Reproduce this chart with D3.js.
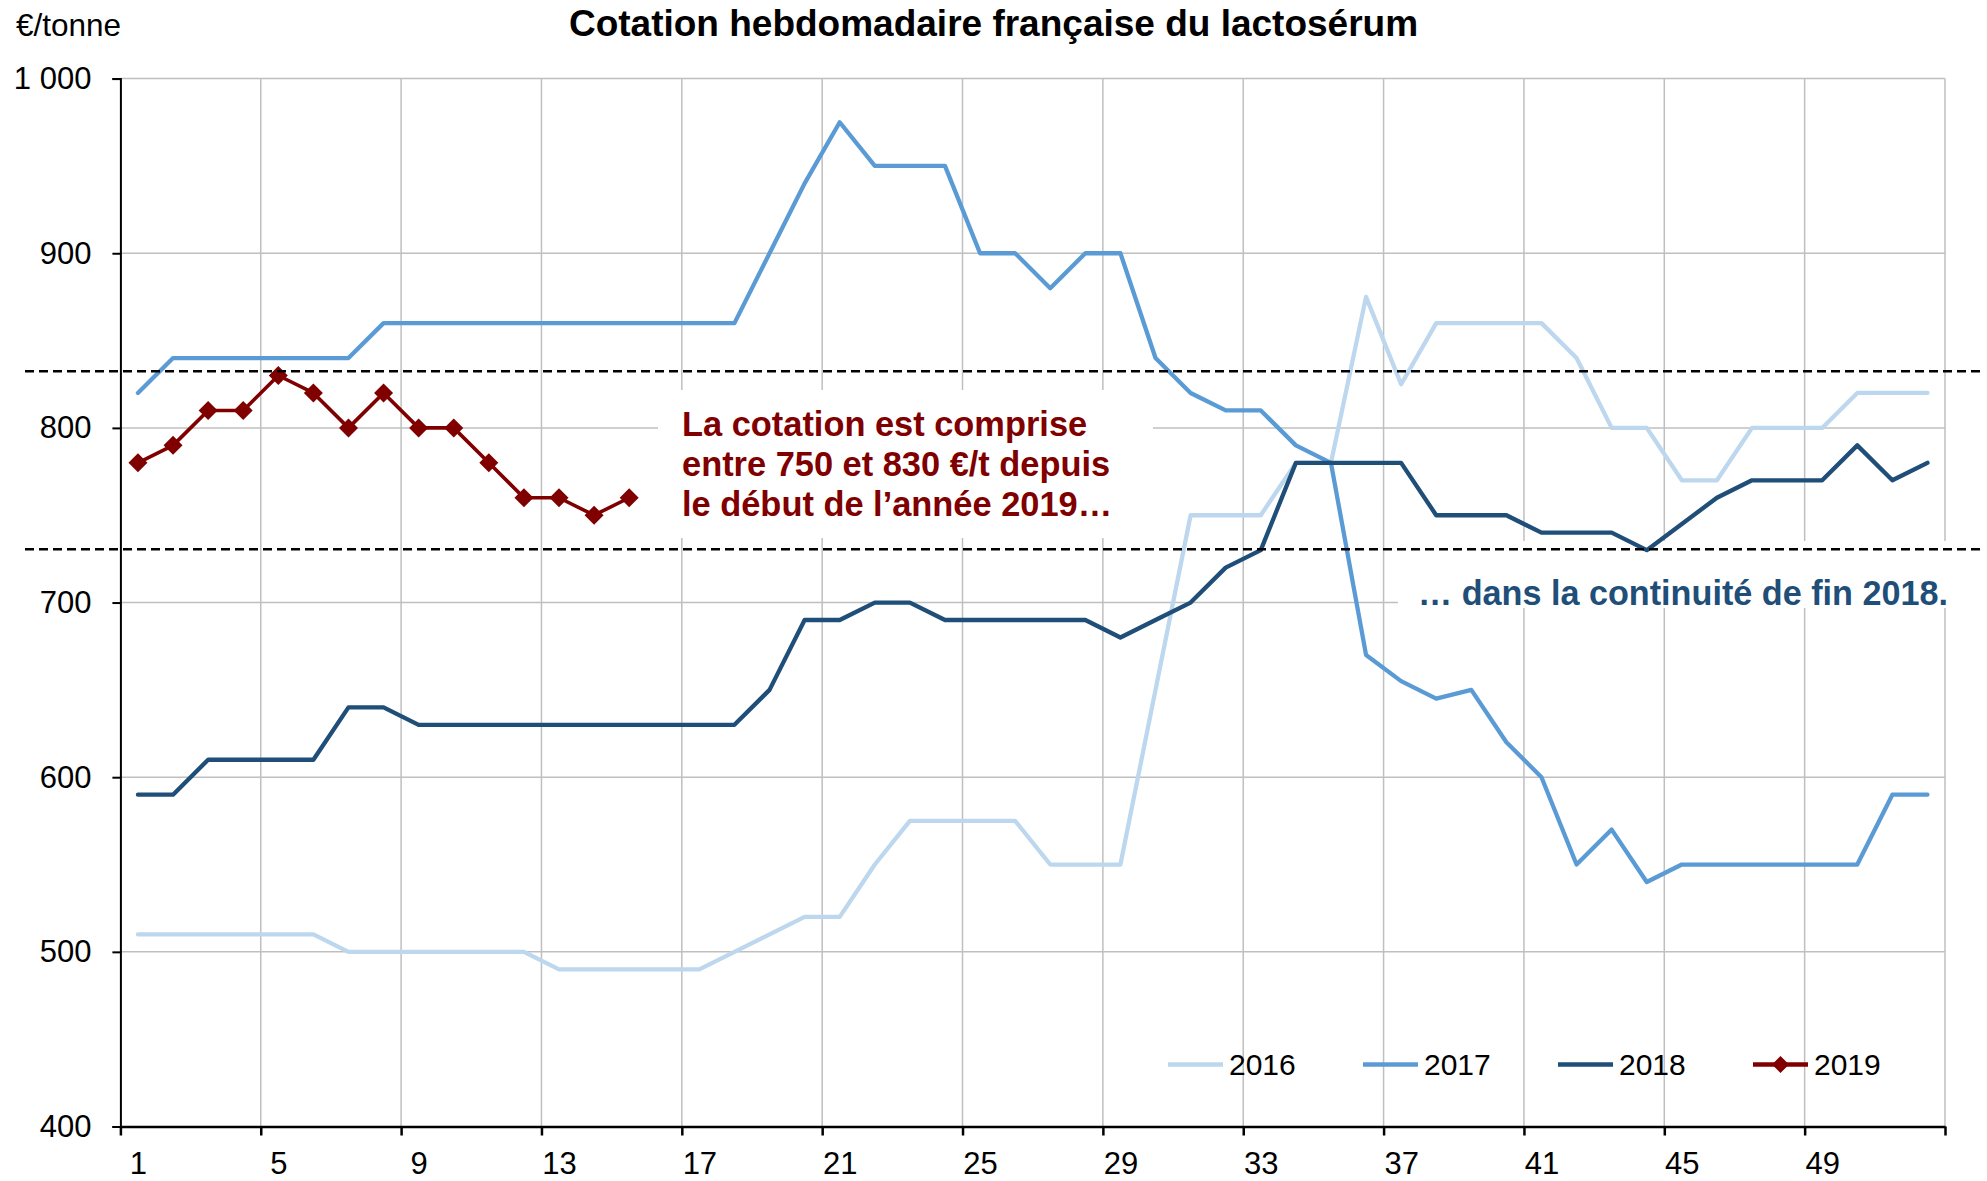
<!DOCTYPE html>
<html>
<head>
<meta charset="utf-8">
<script src="https://cdn.jsdelivr.net/npm/d3@7"></script>
<style>
  body { margin: 0; background: #fff; }
  svg { display: block; }
  text { font-family: "Liberation Sans", Arial, sans-serif; }
</style>
</head>
<body>
<svg id="chart" width="1987" height="1181"></svg>
<script>
// Weekly French whey price quotation, €/tonne
const weeks = d3.range(1, 53);
const weekLabels = [1, 5, 9, 13, 17, 21, 25, 29, 33, 37, 41, 45, 49];
const yTicks = [400, 500, 600, 700, 800, 900, 1000];

const values2016 = [510,510,510,510,510,510,500,500,500,500,500,500,490,490,490,490,490,500,510,520,520,550,575,575,575,575,550,550,550,650,750,750,750,780,780,875,825,860,860,860,860,840,800,800,770,770,800,800,800,820,820,820];
const values2017 = [820,840,840,840,840,840,840,860,860,860,860,860,860,860,860,860,860,860,900,940,975,950,950,950,900,900,880,900,900,840,820,810,810,790,780,670,655,645,650,620,600,550,570,540,550,550,550,550,550,550,590,590];
const values2018 = [590,590,610,610,610,610,640,640,630,630,630,630,630,630,630,630,630,630,650,690,690,700,700,690,690,690,690,690,680,690,700,720,730,780,780,780,780,750,750,750,740,740,740,730,745,760,770,770,770,790,770,780];
const values2019 = [780,790,810,810,830,820,800,820,800,800,780,760,760,750,760];

const seriesNames = ["2016", "2017", "2018", "2019"];
const seriesValues = [values2016, values2017, values2018, values2019];
const seriesColors = ["#BDD7EE", "#5B9BD5", "#1F4E79", "#800000"];

// range band drawn as two dashed lines
const bandLevels = [730.5, 832.5];

const titleText = "Cotation hebdomadaire française du lactosérum";
const unitText = "€/tonne";
const noteRed = ["La cotation est comprise", "entre 750 et 830 €/t depuis", "le début de l’année 2019…"];
const noteBlue = "… dans la continuité de fin 2018.";

const svg = d3.select("#chart");
const plotLeft = 120.4, plotRight = 1945, plotTop = 78.6, plotBottom = 1126.5;

// x: continuous week index, each week occupying one unit slot
const xb = d3.scaleLinear().domain([0, 52]).range([plotLeft, plotRight]);
const cx = w => xb(w - 0.5);
const y = d3.scaleLinear().domain([400, 1000]).range([plotBottom, plotTop]);

const fr = d3.formatLocale({ decimal: ",", thousands: "\u00a0", grouping: [3], currency: ["", " €"] });
const fmt = fr.format(",d");

// gridlines
const grid = svg.append("g").attr("stroke", "#BFBFBF").attr("stroke-width", 1.5);
grid.selectAll("line.h").data(yTicks.filter(v => v > 400)).join("line").attr("class", "h")
  .attr("x1", plotLeft).attr("x2", plotRight)
  .attr("y1", d => y(d)).attr("y2", d => y(d));
grid.selectAll("line.v").data(d3.range(4, 53, 4)).join("line").attr("class", "v")
  .attr("x1", d => xb(d)).attr("x2", d => xb(d))
  .attr("y1", plotTop).attr("y2", plotBottom);

// white panels behind the annotations
svg.append("rect").attr("x", 658).attr("y", 390).attr("width", 495).attr("height", 148).attr("fill", "#fff");
svg.append("rect").attr("x", 1398).attr("y", 541).attr("width", 570).attr("height", 67).attr("fill", "#fff");

// y axis
const yAxis = svg.append("g").attr("transform", `translate(${plotLeft},0)`)
  .call(d3.axisLeft(y).tickValues(yTicks).tickFormat(fmt).tickSize(8).tickPadding(21));
yAxis.selectAll("path, line").attr("stroke", "#000").attr("stroke-width", 2);
yAxis.selectAll("text").attr("font-size", 31).attr("fill", "#000")
  .style("font-family", "'Liberation Sans', Arial, sans-serif");

// x axis: tick marks on week boundaries, labels on week centres
const xAxis = svg.append("g").attr("transform", `translate(0,${plotBottom})`)
  .call(d3.axisBottom(xb).tickValues(d3.range(0, 53, 4)).tickFormat("").tickSize(9).tickSizeOuter(0));
xAxis.selectAll("path, line").attr("stroke", "#000").attr("stroke-width", 2.5);

const xLabels = svg.append("g").attr("transform", `translate(0,${plotBottom})`)
  .call(d3.axisBottom(xb).tickValues(weekLabels.map(w => w - 0.5)).tickFormat(d => d + 0.5).tickSize(0).tickPadding(25));
xLabels.select(".domain").remove();
xLabels.selectAll("text").attr("font-size", 31).attr("fill", "#000")
  .style("font-family", "'Liberation Sans', Arial, sans-serif");

// series
const line = d3.line().x((d, i) => cx(i + 1)).y(d => y(d));
const widths = [4.3, 4.3, 4.3, 3.6];
seriesValues.forEach((vals, k) => {
  svg.append("path").datum(vals)
    .attr("d", line)
    .attr("fill", "none")
    .attr("stroke", seriesColors[k])
    .attr("stroke-width", widths[k])
    .attr("stroke-linejoin", "round")
    .attr("stroke-linecap", "round");
});

// diamond markers for the current year
const diamond = r => `M0,${-r}L${r},0L0,${r}L${-r},0Z`;
svg.append("g").selectAll("path").data(values2019).join("path")
  .attr("transform", (d, i) => `translate(${cx(i + 1)},${y(d)})`)
  .attr("d", diamond(9.5))
  .attr("fill", seriesColors[3]);

// dashed range lines
svg.append("g").selectAll("line").data(bandLevels).join("line")
  .attr("x1", 25).attr("x2", 1983)
  .attr("y1", d => y(d)).attr("y2", d => y(d))
  .attr("stroke", "#000").attr("stroke-width", 2.5).attr("stroke-dasharray", "9,5");

// titles
svg.append("text").attr("x", 993.5).attr("y", 36).attr("text-anchor", "middle")
  .attr("font-size", 37).attr("font-weight", "bold").attr("fill", "#000").text(titleText);
svg.append("text").attr("x", 16).attr("y", 35.5)
  .attr("font-size", 31.5).attr("fill", "#000").text(unitText);

// annotations
svg.append("g").selectAll("text").data(noteRed).join("text")
  .attr("x", 682).attr("y", (d, i) => 436 + i * 40)
  .attr("font-size", 34.4).attr("font-weight", "bold").attr("fill", "#800000")
  .text(d => d);
svg.append("text").attr("x", 1948).attr("y", 604.5).attr("text-anchor", "end")
  .attr("font-size", 34.2).attr("font-weight", "bold").attr("fill", "#1F4E79")
  .text(noteBlue);

// legend
const legend = svg.append("g").attr("transform", "translate(1168,1064.5)");
const items = legend.selectAll("g").data(seriesNames).join("g")
  .attr("transform", (d, i) => `translate(${i * 195},0)`);
items.append("line").attr("x1", 0).attr("x2", 55).attr("y1", 0).attr("y2", 0)
  .attr("stroke", (d, i) => seriesColors[i]).attr("stroke-width", 4.5);
items.filter((d, i) => i === 3).append("path")
  .attr("transform", "translate(27.5,0)").attr("d", diamond(8.5)).attr("fill", seriesColors[3]);
items.append("text").attr("x", 61).attr("y", 0).attr("dy", "0.35em")
  .attr("font-size", 30).attr("fill", "#000").text(d => d);
</script>
</body>
</html>
